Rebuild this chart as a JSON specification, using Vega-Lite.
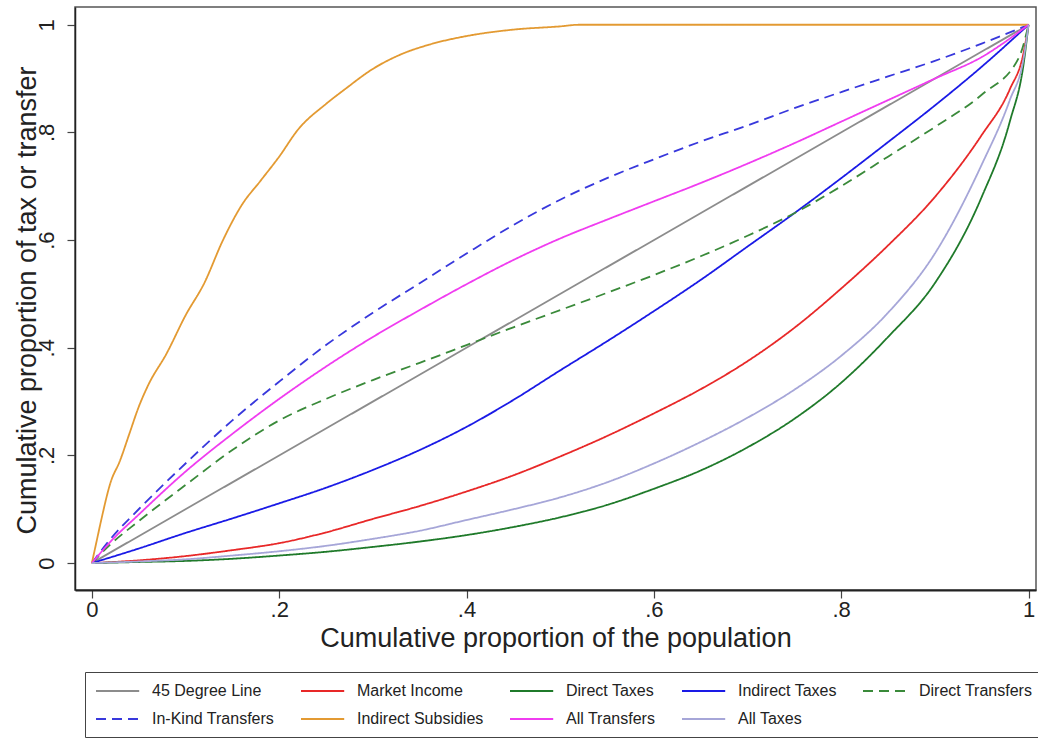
{
  "$schema": "https://vega.github.io/schema/vega-lite/v6.json",
  "autosize": {"type": "none"},
  "width": 961,
  "height": 583,
  "padding": {"left": 75, "top": 7, "right": 2, "bottom": 148},
  "background": "white",
  "config": {
    "view": {"stroke": "#555555", "strokeWidth": 1.5},
    "font": "Liberation Sans"
  },
  "data": {"values": [
    {"s": "45 Degree Line", "x": 0, "y": 0}, {"s": "45 Degree Line", "x": 1, "y": 1},

    {"s": "Market Income", "x": 0, "y": 0}, {"s": "Market Income", "x": 0.05, "y": 0.005}, {"s": "Market Income", "x": 0.1, "y": 0.013}, {"s": "Market Income", "x": 0.15, "y": 0.024}, {"s": "Market Income", "x": 0.2, "y": 0.037}, {"s": "Market Income", "x": 0.25, "y": 0.057}, {"s": "Market Income", "x": 0.3, "y": 0.082}, {"s": "Market Income", "x": 0.35, "y": 0.106}, {"s": "Market Income", "x": 0.4, "y": 0.133}, {"s": "Market Income", "x": 0.45, "y": 0.163}, {"s": "Market Income", "x": 0.5, "y": 0.198}, {"s": "Market Income", "x": 0.55, "y": 0.236}, {"s": "Market Income", "x": 0.6, "y": 0.278}, {"s": "Market Income", "x": 0.65, "y": 0.323}, {"s": "Market Income", "x": 0.7, "y": 0.375}, {"s": "Market Income", "x": 0.75, "y": 0.437}, {"s": "Market Income", "x": 0.8, "y": 0.51}, {"s": "Market Income", "x": 0.85, "y": 0.59}, {"s": "Market Income", "x": 0.9, "y": 0.68}, {"s": "Market Income", "x": 0.95, "y": 0.795}, {"s": "Market Income", "x": 0.98, "y": 0.88}, {"s": "Market Income", "x": 0.995, "y": 0.95}, {"s": "Market Income", "x": 1, "y": 1},

    {"s": "Direct Taxes", "x": 0, "y": 0}, {"s": "Direct Taxes", "x": 0.05, "y": 0.002}, {"s": "Direct Taxes", "x": 0.1, "y": 0.004}, {"s": "Direct Taxes", "x": 0.15, "y": 0.008}, {"s": "Direct Taxes", "x": 0.2, "y": 0.014}, {"s": "Direct Taxes", "x": 0.25, "y": 0.021}, {"s": "Direct Taxes", "x": 0.3, "y": 0.03}, {"s": "Direct Taxes", "x": 0.35, "y": 0.04}, {"s": "Direct Taxes", "x": 0.4, "y": 0.052}, {"s": "Direct Taxes", "x": 0.45, "y": 0.067}, {"s": "Direct Taxes", "x": 0.5, "y": 0.085}, {"s": "Direct Taxes", "x": 0.55, "y": 0.108}, {"s": "Direct Taxes", "x": 0.6, "y": 0.138}, {"s": "Direct Taxes", "x": 0.65, "y": 0.172}, {"s": "Direct Taxes", "x": 0.7, "y": 0.215}, {"s": "Direct Taxes", "x": 0.75, "y": 0.268}, {"s": "Direct Taxes", "x": 0.8, "y": 0.335}, {"s": "Direct Taxes", "x": 0.85, "y": 0.42}, {"s": "Direct Taxes", "x": 0.9, "y": 0.52}, {"s": "Direct Taxes", "x": 0.95, "y": 0.68}, {"s": "Direct Taxes", "x": 0.98, "y": 0.82}, {"s": "Direct Taxes", "x": 0.995, "y": 0.93}, {"s": "Direct Taxes", "x": 1, "y": 1},

    {"s": "Indirect Taxes", "x": 0, "y": 0}, {"s": "Indirect Taxes", "x": 0.05, "y": 0.027}, {"s": "Indirect Taxes", "x": 0.1, "y": 0.056}, {"s": "Indirect Taxes", "x": 0.15, "y": 0.083}, {"s": "Indirect Taxes", "x": 0.2, "y": 0.111}, {"s": "Indirect Taxes", "x": 0.25, "y": 0.14}, {"s": "Indirect Taxes", "x": 0.3, "y": 0.173}, {"s": "Indirect Taxes", "x": 0.35, "y": 0.21}, {"s": "Indirect Taxes", "x": 0.4, "y": 0.253}, {"s": "Indirect Taxes", "x": 0.45, "y": 0.303}, {"s": "Indirect Taxes", "x": 0.5, "y": 0.358}, {"s": "Indirect Taxes", "x": 0.55, "y": 0.412}, {"s": "Indirect Taxes", "x": 0.6, "y": 0.468}, {"s": "Indirect Taxes", "x": 0.65, "y": 0.526}, {"s": "Indirect Taxes", "x": 0.7, "y": 0.588}, {"s": "Indirect Taxes", "x": 0.75, "y": 0.65}, {"s": "Indirect Taxes", "x": 0.8, "y": 0.715}, {"s": "Indirect Taxes", "x": 0.85, "y": 0.782}, {"s": "Indirect Taxes", "x": 0.9, "y": 0.85}, {"s": "Indirect Taxes", "x": 0.95, "y": 0.922}, {"s": "Indirect Taxes", "x": 1, "y": 1},

    {"s": "Direct Transfers", "x": 0, "y": 0}, {"s": "Direct Transfers", "x": 0.02, "y": 0.035}, {"s": "Direct Transfers", "x": 0.05, "y": 0.078}, {"s": "Direct Transfers", "x": 0.1, "y": 0.145}, {"s": "Direct Transfers", "x": 0.15, "y": 0.21}, {"s": "Direct Transfers", "x": 0.2, "y": 0.265}, {"s": "Direct Transfers", "x": 0.25, "y": 0.305}, {"s": "Direct Transfers", "x": 0.3, "y": 0.34}, {"s": "Direct Transfers", "x": 0.35, "y": 0.372}, {"s": "Direct Transfers", "x": 0.4, "y": 0.405}, {"s": "Direct Transfers", "x": 0.45, "y": 0.438}, {"s": "Direct Transfers", "x": 0.5, "y": 0.47}, {"s": "Direct Transfers", "x": 0.55, "y": 0.502}, {"s": "Direct Transfers", "x": 0.6, "y": 0.535}, {"s": "Direct Transfers", "x": 0.65, "y": 0.57}, {"s": "Direct Transfers", "x": 0.7, "y": 0.608}, {"s": "Direct Transfers", "x": 0.75, "y": 0.65}, {"s": "Direct Transfers", "x": 0.8, "y": 0.7}, {"s": "Direct Transfers", "x": 0.85, "y": 0.755}, {"s": "Direct Transfers", "x": 0.9, "y": 0.81}, {"s": "Direct Transfers", "x": 0.95, "y": 0.87}, {"s": "Direct Transfers", "x": 0.99, "y": 0.94}, {"s": "Direct Transfers", "x": 1, "y": 1},

    {"s": "In-Kind Transfers", "x": 0, "y": 0}, {"s": "In-Kind Transfers", "x": 0.02, "y": 0.045}, {"s": "In-Kind Transfers", "x": 0.05, "y": 0.1}, {"s": "In-Kind Transfers", "x": 0.1, "y": 0.185}, {"s": "In-Kind Transfers", "x": 0.15, "y": 0.265}, {"s": "In-Kind Transfers", "x": 0.2, "y": 0.337}, {"s": "In-Kind Transfers", "x": 0.25, "y": 0.405}, {"s": "In-Kind Transfers", "x": 0.3, "y": 0.465}, {"s": "In-Kind Transfers", "x": 0.35, "y": 0.52}, {"s": "In-Kind Transfers", "x": 0.4, "y": 0.575}, {"s": "In-Kind Transfers", "x": 0.45, "y": 0.628}, {"s": "In-Kind Transfers", "x": 0.5, "y": 0.675}, {"s": "In-Kind Transfers", "x": 0.55, "y": 0.715}, {"s": "In-Kind Transfers", "x": 0.6, "y": 0.75}, {"s": "In-Kind Transfers", "x": 0.65, "y": 0.783}, {"s": "In-Kind Transfers", "x": 0.7, "y": 0.813}, {"s": "In-Kind Transfers", "x": 0.75, "y": 0.845}, {"s": "In-Kind Transfers", "x": 0.8, "y": 0.875}, {"s": "In-Kind Transfers", "x": 0.85, "y": 0.904}, {"s": "In-Kind Transfers", "x": 0.9, "y": 0.933}, {"s": "In-Kind Transfers", "x": 0.95, "y": 0.965}, {"s": "In-Kind Transfers", "x": 1, "y": 1},

    {"s": "Indirect Subsidies", "x": 0, "y": 0}, {"s": "Indirect Subsidies", "x": 0.005, "y": 0.04}, {"s": "Indirect Subsidies", "x": 0.01, "y": 0.08}, {"s": "Indirect Subsidies", "x": 0.02, "y": 0.15}, {"s": "Indirect Subsidies", "x": 0.03, "y": 0.19}, {"s": "Indirect Subsidies", "x": 0.04, "y": 0.24}, {"s": "Indirect Subsidies", "x": 0.05, "y": 0.29}, {"s": "Indirect Subsidies", "x": 0.06, "y": 0.33}, {"s": "Indirect Subsidies", "x": 0.08, "y": 0.39}, {"s": "Indirect Subsidies", "x": 0.1, "y": 0.46}, {"s": "Indirect Subsidies", "x": 0.12, "y": 0.52}, {"s": "Indirect Subsidies", "x": 0.14, "y": 0.6}, {"s": "Indirect Subsidies", "x": 0.16, "y": 0.665}, {"s": "Indirect Subsidies", "x": 0.18, "y": 0.71}, {"s": "Indirect Subsidies", "x": 0.2, "y": 0.755}, {"s": "Indirect Subsidies", "x": 0.22, "y": 0.805}, {"s": "Indirect Subsidies", "x": 0.25, "y": 0.853}, {"s": "Indirect Subsidies", "x": 0.27, "y": 0.88}, {"s": "Indirect Subsidies", "x": 0.3, "y": 0.918}, {"s": "Indirect Subsidies", "x": 0.33, "y": 0.945}, {"s": "Indirect Subsidies", "x": 0.36, "y": 0.963}, {"s": "Indirect Subsidies", "x": 0.4, "y": 0.979}, {"s": "Indirect Subsidies", "x": 0.45, "y": 0.991}, {"s": "Indirect Subsidies", "x": 0.5, "y": 0.997}, {"s": "Indirect Subsidies", "x": 0.52, "y": 1}, {"s": "Indirect Subsidies", "x": 1, "y": 1},

    {"s": "All Transfers", "x": 0, "y": 0}, {"s": "All Transfers", "x": 0.02, "y": 0.04}, {"s": "All Transfers", "x": 0.05, "y": 0.09}, {"s": "All Transfers", "x": 0.1, "y": 0.17}, {"s": "All Transfers", "x": 0.15, "y": 0.24}, {"s": "All Transfers", "x": 0.2, "y": 0.305}, {"s": "All Transfers", "x": 0.25, "y": 0.365}, {"s": "All Transfers", "x": 0.3, "y": 0.42}, {"s": "All Transfers", "x": 0.35, "y": 0.47}, {"s": "All Transfers", "x": 0.4, "y": 0.518}, {"s": "All Transfers", "x": 0.45, "y": 0.563}, {"s": "All Transfers", "x": 0.5, "y": 0.603}, {"s": "All Transfers", "x": 0.55, "y": 0.638}, {"s": "All Transfers", "x": 0.6, "y": 0.672}, {"s": "All Transfers", "x": 0.65, "y": 0.706}, {"s": "All Transfers", "x": 0.7, "y": 0.742}, {"s": "All Transfers", "x": 0.75, "y": 0.78}, {"s": "All Transfers", "x": 0.8, "y": 0.82}, {"s": "All Transfers", "x": 0.85, "y": 0.86}, {"s": "All Transfers", "x": 0.9, "y": 0.9}, {"s": "All Transfers", "x": 0.95, "y": 0.94}, {"s": "All Transfers", "x": 1, "y": 1},

    {"s": "All Taxes", "x": 0, "y": 0}, {"s": "All Taxes", "x": 0.05, "y": 0.003}, {"s": "All Taxes", "x": 0.1, "y": 0.007}, {"s": "All Taxes", "x": 0.15, "y": 0.014}, {"s": "All Taxes", "x": 0.2, "y": 0.022}, {"s": "All Taxes", "x": 0.25, "y": 0.032}, {"s": "All Taxes", "x": 0.3, "y": 0.045}, {"s": "All Taxes", "x": 0.35, "y": 0.06}, {"s": "All Taxes", "x": 0.4, "y": 0.08}, {"s": "All Taxes", "x": 0.45, "y": 0.1}, {"s": "All Taxes", "x": 0.5, "y": 0.122}, {"s": "All Taxes", "x": 0.55, "y": 0.15}, {"s": "All Taxes", "x": 0.6, "y": 0.185}, {"s": "All Taxes", "x": 0.65, "y": 0.225}, {"s": "All Taxes", "x": 0.7, "y": 0.27}, {"s": "All Taxes", "x": 0.75, "y": 0.322}, {"s": "All Taxes", "x": 0.8, "y": 0.385}, {"s": "All Taxes", "x": 0.85, "y": 0.465}, {"s": "All Taxes", "x": 0.9, "y": 0.575}, {"s": "All Taxes", "x": 0.95, "y": 0.74}, {"s": "All Taxes", "x": 0.98, "y": 0.86}, {"s": "All Taxes", "x": 0.995, "y": 0.94}, {"s": "All Taxes", "x": 1, "y": 1}
  ]},
  "mark": {"type": "line", "strokeWidth": 1.8, "clip": true, "interpolate": "monotone"},
  "encoding": {
    "x": {
      "field": "x", "type": "quantitative",
      "scale": {"domain": [-0.018, 1.008], "nice": false, "zero": false},
      "axis": {
        "title": "Cumulative proportion of the population",
        "values": [0, 0.2, 0.4, 0.6, 0.8, 1],
        "labelExpr": "datum.value == 0 ? '0' : (datum.value >= 1 ? '1' : replace(format(datum.value, '.1f'), '0.', '.'))",
        "grid": false,
        "domainColor": "#222222", "domainWidth": 2,
        "tickColor": "#444444", "tickSize": 8, "tickWidth": 1.2,
        "labelFont": "Liberation Sans", "labelFontSize": 22, "labelColor": "#222222", "labelPadding": 1,
        "labelFlush": false, "labelOverlap": false,
        "titleFont": "Liberation Sans", "titleFontSize": 27, "titleFontWeight": "normal", "titleColor": "#222222",
        "titleY": 48, "titleBaseline": "middle"
      }
    },
    "y": {
      "field": "y", "type": "quantitative",
      "scale": {"domain": [-0.05, 1.033], "nice": false, "zero": false},
      "axis": {
        "title": "Cumulative proportion of tax or transfer",
        "values": [0, 0.2, 0.4, 0.6, 0.8, 1],
        "labelExpr": "datum.value == 0 ? '0' : (datum.value >= 1 ? '1' : replace(format(datum.value, '.1f'), '0.', '.'))",
        "grid": false,
        "domainColor": "#222222", "domainWidth": 1.5,
        "tickColor": "#444444", "tickSize": 8, "tickWidth": 1.2,
        "labelFont": "Liberation Sans", "labelFontSize": 22, "labelColor": "#222222",
        "labelAngle": -90, "labelAlign": "center", "labelBaseline": "alphabetic", "labelPadding": 14,
        "labelFlush": false, "labelOverlap": false,
        "titleFont": "Liberation Sans", "titleFontSize": 27, "titleFontWeight": "normal", "titleColor": "#222222",
        "titleAngle": -90, "titleX": -48, "titleY": 293, "titleAlign": "center", "titleBaseline": "middle"
      }
    },
    "color": {
      "field": "s", "type": "nominal",
      "scale": {
        "domain": ["45 Degree Line", "Market Income", "Direct Taxes", "Indirect Taxes", "Direct Transfers", "In-Kind Transfers", "Indirect Subsidies", "All Transfers", "All Taxes"],
        "range": ["#8c8c8c", "#e82828", "#1f7a2a", "#1a1ae6", "#3a8a3a", "#3838dc", "#e39a32", "#f03cf0", "#a6a6d8"]
      },
      "legend": {
        "title": null, "orient": "none", "legendX": 10, "legendY": 665, "direction": "horizontal", "columns": 5,
        "padding": 10, "strokeColor": "#444444", "fillColor": "white",
        "symbolType": "M-1,0H4.4", "symbolSize": 256, "symbolStrokeWidth": 2,
        "labelFont": "Liberation Sans", "labelFontSize": 16, "labelColor": "#222222", "labelOffset": 39, "labelLimit": 300,
        "columnPadding": 22, "rowPadding": 11
      }
    },
    "strokeDash": {
      "field": "s", "type": "nominal",
      "scale": {
        "domain": ["45 Degree Line", "Market Income", "Direct Taxes", "Indirect Taxes", "Direct Transfers", "In-Kind Transfers", "Indirect Subsidies", "All Transfers", "All Taxes"],
        "range": [[1, 0], [1, 0], [1, 0], [1, 0], [10, 6], [10, 6], [1, 0], [1, 0], [1, 0]]
      },
      "legend": {
        "title": null, "orient": "none", "legendX": 10, "legendY": 665, "direction": "horizontal", "columns": 5,
        "padding": 10, "strokeColor": "#444444", "fillColor": "white",
        "symbolType": "M-1,0H4.4", "symbolSize": 256, "symbolStrokeWidth": 2,
        "labelFont": "Liberation Sans", "labelFontSize": 16, "labelColor": "#222222", "labelOffset": 39, "labelLimit": 300,
        "columnPadding": 22, "rowPadding": 11
      }
    }
  }
}
